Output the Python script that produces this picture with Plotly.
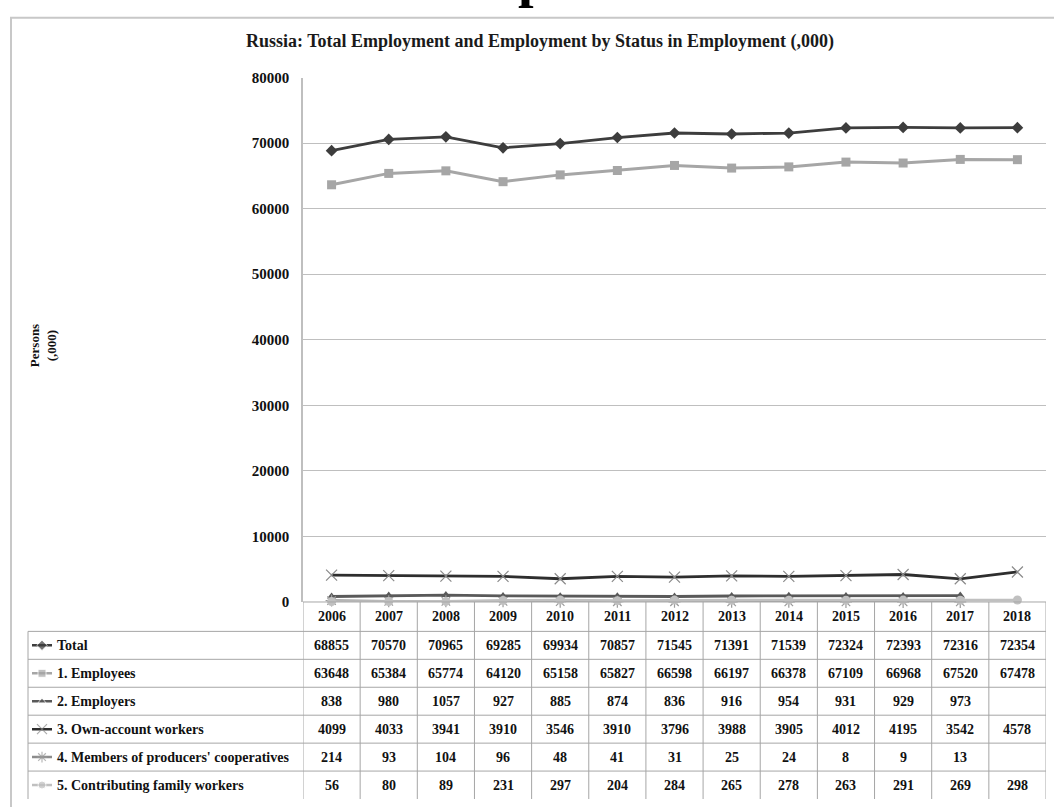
import plotly.graph_objects as go

# ---------------- data ----------------
years = [2006, 2007, 2008, 2009, 2010, 2011, 2012, 2013, 2014, 2015, 2016, 2017, 2018]
series_names = [
    "Total",
    "1. Employees",
    "2. Employers",
    "3. Own-account workers",
    "4. Members of producers' cooperatives",
    "5. Contributing family workers",
]
total = [68855, 70570, 70965, 69285, 69934, 70857, 71545, 71391, 71539, 72324, 72393, 72316, 72354]
employees = [63648, 65384, 65774, 64120, 65158, 65827, 66598, 66197, 66378, 67109, 66968, 67520, 67478]
employers = [838, 980, 1057, 927, 885, 874, 836, 916, 954, 931, 929, 973, None]
own_account = [4099, 4033, 3941, 3910, 3546, 3910, 3796, 3988, 3905, 4012, 4195, 3542, 4578]
members_coop = [214, 93, 104, 96, 48, 41, 31, 25, 24, 8, 9, 13, None]
family_workers = [56, 80, 89, 231, 297, 204, 284, 265, 278, 263, 291, 269, 298]
series_values = [total, employees, employers, own_account, members_coop, family_workers]

title_text = "Russia: Total Employment and Employment by Status in Employment (,000)"
y_title = "Persons<br>(,000)"
y_ticks = [0, 10000, 20000, 30000, 40000, 50000, 60000, 70000, 80000]

# ---------------- styles ----------------
styles = [
    dict(line_color="#3d3d3d", line_width=2.8, symbol="diamond", msize=9, mcolor="#3d3d3d", mline=None),
    dict(line_color="#a6a6a6", line_width=3, symbol="square", msize=9, mcolor="#a6a6a6", mline=None),
    dict(line_color="#595959", line_width=2.8, symbol="triangle-up", msize=8, mcolor="#595959", mline=None),
    dict(line_color="#2e2e2e", line_width=2.8, symbol="x-thin", msize=11, mcolor="#8a8a8a", mline="#8a8a8a"),
    dict(line_color="#8c8c8c", line_width=2.8, symbol="asterisk", msize=10, mcolor="#9a9a9a", mline="#9a9a9a"),
    dict(line_color="#c0c0c0", line_width=2.8, symbol="circle", msize=9, mcolor="#c0c0c0", mline=None),
]

W, H = 1054, 807
FONT = "Liberation Serif"
TXT = "#111111"


def px(x):
    return x / W


def py(y):
    return 1 - y / H


def bfont(size, color=TXT):
    return dict(family=FONT, size=size, color=color, weight="bold")


PLOT_L, PLOT_R, PLOT_T, PLOT_B = 303, 1046, 71, 606
TAB_L = 28
HEAD_B = 636
ROW_H = (H - HEAD_B) / len(series_names)
GRID = "#a6a6a6"

fig = go.Figure()

# chart series
for name, vals, st in zip(series_names, series_values, styles):
    marker = dict(symbol=st["symbol"], size=st["msize"], color=st["mcolor"])
    if st["mline"]:
        marker["line"] = dict(color=st["mline"], width=1.2)
    fig.add_trace(go.Scatter(
        x=years, y=vals, name=name, mode="lines+markers",
        line=dict(color=st["line_color"], width=st["line_width"]),
        marker=marker, connectgaps=False, showlegend=False,
        xaxis="x", yaxis="y", cliponaxis=False,
    ))

# legend keys in the table's first column
for i, (name, st) in enumerate(zip(series_names, styles)):
    marker = dict(symbol=st["symbol"], size=[0, st["msize"] - 1, 0], color=st["mcolor"])
    if st["mline"]:
        marker["line"] = dict(color=st["mline"], width=1.2)
    fig.add_trace(go.Scatter(
        x=[4, 14, 24], y=[i + 0.5] * 3, mode="lines+markers",
        line=dict(color=st["line_color"], width=2.5), marker=marker,
        showlegend=False, xaxis="x2", yaxis="y2", hoverinfo="skip",
    ))

shapes = []
annotations = []

# outer frame
shapes.append(dict(type="rect", xref="paper", yref="paper", x0=px(11), x1=px(1070), y0=py(830), y1=py(10),
                   line=dict(color="#c8c8c8", width=2), layer="below"))

# table grid: horizontal lines
shapes.append(dict(type="line", xref="paper", yref="paper", x0=px(PLOT_L), x1=px(PLOT_R),
                   y0=py(PLOT_B), y1=py(PLOT_B), line=dict(color=GRID, width=1)))
for k in range(len(series_names)):
    yy = HEAD_B + k * ROW_H
    shapes.append(dict(type="line", xref="paper", yref="paper", x0=px(TAB_L), x1=px(PLOT_R),
                       y0=py(yy), y1=py(yy), line=dict(color=GRID, width=1)))
# vertical lines
shapes.append(dict(type="line", xref="paper", yref="paper", x0=px(TAB_L), x1=px(TAB_L),
                   y0=py(HEAD_B), y1=py(H), line=dict(color=GRID, width=1)))
for yr in years + [years[-1] + 1]:
    shapes.append(dict(type="line", xref="x", yref="paper", x0=yr - 0.5, x1=yr - 0.5,
                       y0=py(PLOT_B), y1=py(H), line=dict(color=GRID, width=1)))

# header years
for yr in years:
    annotations.append(dict(x=yr, y=py((PLOT_B + HEAD_B) / 2), xref="x", yref="paper", text=str(yr),
                            showarrow=False, font=bfont(14), xanchor="center", yanchor="middle"))

# table body
for i, (name, vals) in enumerate(zip(series_names, series_values)):
    yc = py(HEAD_B + (i + 0.5) * ROW_H)
    annotations.append(dict(x=27, y=i + 0.5, xref="x2", yref="y2", text=name, showarrow=False,
                            font=bfont(14), xanchor="left", yanchor="middle"))
    for yr, v in zip(years, vals):
        if v is None:
            continue
        annotations.append(dict(x=yr, y=yc, xref="x", yref="paper", text=str(v), showarrow=False,
                                font=bfont(14), xanchor="center", yanchor="middle"))

# chart title
annotations.append(dict(x=px(540), y=py(34), xref="paper", yref="paper", text=title_text, showarrow=False,
                        font=bfont(18, "#1a1a1a"), xanchor="center", yanchor="middle"))
# axis title
annotations.append(dict(x=px(43), y=py(345), xref="paper", yref="paper", text=y_title, showarrow=False,
                        textangle=-90, font=bfont(13), xanchor="center", yanchor="middle"))
# cut-off heading fragment at the very top
annotations.append(dict(x=px(533), y=py(1), xref="paper", yref="paper", text="p", showarrow=False,
                        font=bfont(56, "#000000"), xanchor="center", yanchor="bottom", borderpad=0))

fig.update_layout(
    width=W, height=H,
    margin=dict(l=0, r=0, t=0, b=0),
    paper_bgcolor="white", plot_bgcolor="white",
    showlegend=False,
    font=dict(family=FONT),
    xaxis=dict(domain=[px(PLOT_L), px(PLOT_R)], range=[years[0] - 0.5, years[-1] + 0.5],
               showticklabels=False, showgrid=False, zeroline=False, showline=False, ticks="",
               fixedrange=True, anchor="y"),
    yaxis=dict(domain=[py(PLOT_B), py(PLOT_T)], range=[0, 80000], tickvals=y_ticks,
               ticktext=[str(t) for t in y_ticks], showgrid=True, gridcolor="#bfbfbf", gridwidth=1,
               zeroline=False, showline=True, linecolor="#bfbfbf", linewidth=1.5, ticks="",
               ticklabelstandoff=9, tickfont=bfont(15),
               fixedrange=True, anchor="x"),
    xaxis2=dict(domain=[px(TAB_L), px(PLOT_L)], range=[0, PLOT_L - TAB_L], visible=False,
                fixedrange=True, anchor="y2"),
    yaxis2=dict(domain=[py(H), py(HEAD_B)], range=[len(series_names), 0], visible=False,
                fixedrange=True, anchor="x2"),
    shapes=shapes,
    annotations=annotations,
)

fig.write_html(
    "out.html",
    config={"displayModeBar": False},
    post_script="document.body.style.margin='0';document.body.style.overflow='hidden';",
)
